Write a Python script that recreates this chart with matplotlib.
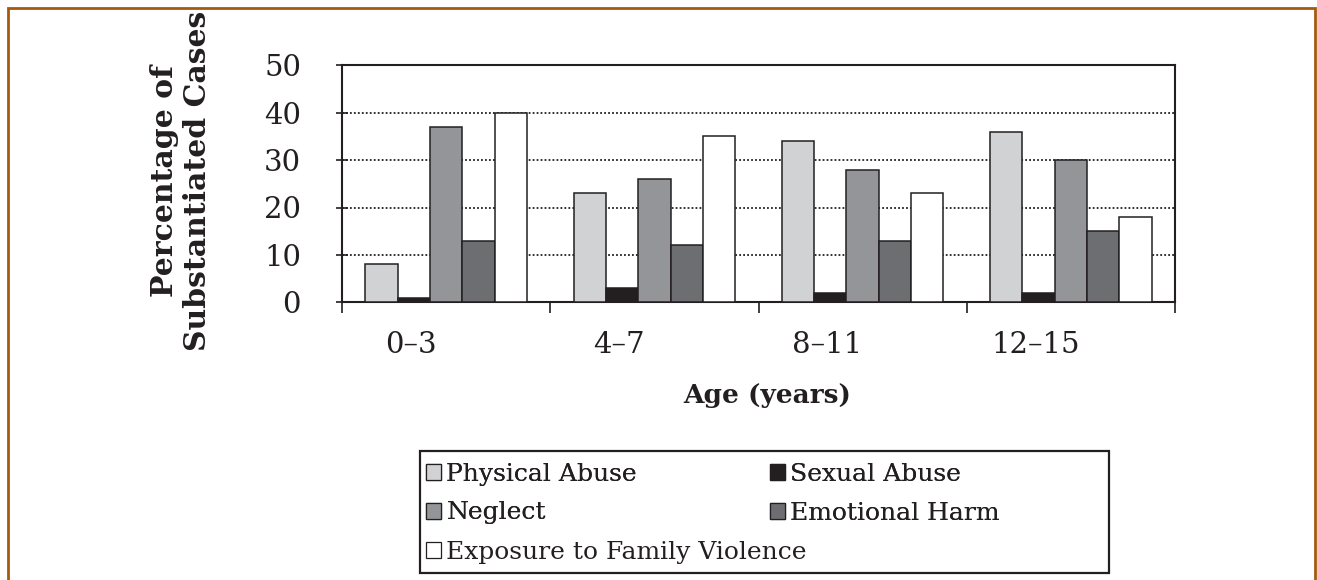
import matplotlib
matplotlib.use('Agg')
import matplotlib.pyplot as plt
from matplotlib.patches import Rectangle, Patch
import numpy as np

plt.rcParams['font.family'] = ['DejaVu Serif']

# data
age_groups = ['0–3', '4–7', '8–11', '12–15']
series_names = ['Physical Abuse', 'Sexual Abuse', 'Neglect', 'Emotional Harm',
                'Exposure to Family Violence']
physical = [8, 23, 34, 36]
sexual = [1, 3, 2, 2]
neglect = [37, 26, 28, 30]
emotional = [13, 12, 13, 15]
exposure = [40, 35, 23, 18]
series_colors = ['#d1d2d4', '#231f20', '#939598', '#6d6e71', '#ffffff']

edge = '#231f20'

fig = plt.figure(figsize=(13.17, 5.8), dpi=100)
ax = fig.add_axes([342 / 1317, 1 - 302.3 / 580, (1175 - 342) / 1317, (302.3 - 65.3) / 580])

x = np.arange(len(age_groups))
w = 0.155
handles = []
for j, vals in enumerate([physical, sexual, neglect, emotional, exposure]):
    ax.bar(x + (j - 2) * w, vals, w, color=series_colors[j], edgecolor=edge,
           linewidth=1.1, zorder=3)
    handles.append(Patch(facecolor=series_colors[j], edgecolor=edge, linewidth=0.9))

ax.set_xlim(-0.5, len(age_groups) - 0.5)
ax.set_ylim(0, 50)
ax.set_yticks([0, 10, 20, 30, 40, 50])
ax.tick_params(axis='y', direction='inout', length=9, width=1.2, pad=25,
               labelsize=21, colors=edge)

# group boundaries as major ticks, labels as minor ticks shifted left
ax.set_xticks(np.arange(len(age_groups) + 1) - 0.5)
ax.set_xticklabels([])
ax.tick_params(axis='x', which='major', direction='out', length=8, width=1.2, color=edge)
ax.set_xticks(x - 0.17, minor=True)
ax.set_xticklabels(age_groups, minor=True)
ax.tick_params(axis='x', which='minor', length=0, pad=21, labelsize=21, labelcolor=edge)

for yv in [10, 20, 30, 40]:
    ax.axhline(yv, color=edge, linestyle=(0, (1, 1.2)), linewidth=1.3, zorder=1)

for s in ax.spines.values():
    s.set_color(edge)
    s.set_linewidth(1.5)

fig.text(181 / 1317, 1 - 181 / 580, 'Percentage of\nSubstantiated Cases', rotation=90,
         ha='center', va='center', fontsize=21.5, fontweight='bold', color=edge,
         linespacing=1.18)
fig.text(767 / 1317, 1 - 396 / 580, 'Age (years)', ha='center', va='center',
         fontsize=19, fontweight='bold', color=edge)

# legend: box drawn separately, two legends inside
fig.patches.append(Rectangle((420 / 1317, 1 - 573 / 580), (1109 - 420) / 1317, (573 - 451) / 580,
                             transform=fig.transFigure, fill=False, edgecolor=edge,
                             linewidth=1.6))
leg_kw = dict(frameon=False, fontsize=18, handlelength=0.6, handleheight=0.6,
              handletextpad=0.22, borderpad=0, borderaxespad=0, labelspacing=0.62,
              labelcolor=edge, loc='upper left')
leg1 = fig.legend([handles[0], handles[2], handles[1], handles[3]],
                  [series_names[0], series_names[2], series_names[1], series_names[3]],
                  ncol=2, columnspacing=5.3, bbox_to_anchor=(426 / 1317, 1 - 463 / 580), **leg_kw)
leg2 = fig.legend([handles[4]], [series_names[4]],
                  bbox_to_anchor=(426 / 1317, 1 - 541 / 580), **leg_kw)
fig.add_artist(leg1)

# outer frame (open at bottom)
fig.patches.append(Rectangle((8 / 1317, -0.05), (1315 - 8) / 1317, 1.05 - 8 / 580,
                             transform=fig.transFigure, fill=False, edgecolor='#a5590f',
                             linewidth=2.0))

fig.savefig('out.png', dpi=100, facecolor='white')
